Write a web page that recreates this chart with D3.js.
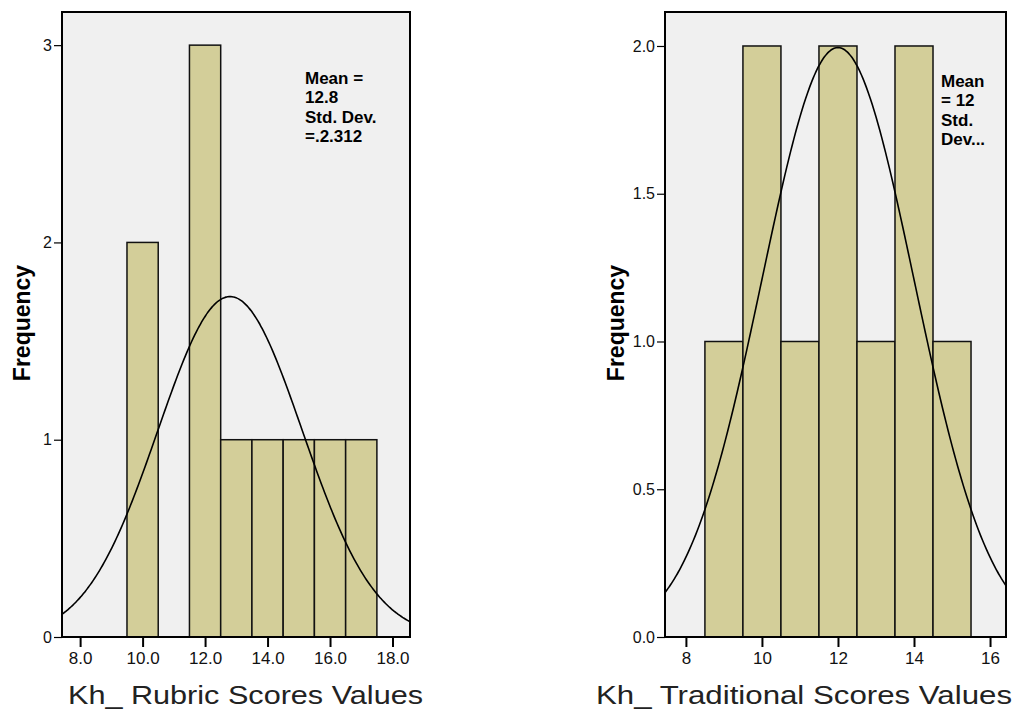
<!DOCTYPE html>
<html>
<head>
<meta charset="utf-8">
<script src="https://cdn.jsdelivr.net/npm/d3@7"></script>
<style>
  body { margin: 0; background: #fff; }
  text { font-family: "Liberation Sans", Arial, sans-serif; }
</style>
</head>
<body>
<div id="chart"></div>
<script>
(function () {
    // left histogram: Kh_ Rubric Scores Values
    var rubricBins = [10, 12, 13, 14, 15, 16, 17];
    var rubricCounts = [2, 3, 1, 1, 1, 1, 1];
    var rubricXTicks = [8, 10, 12, 14, 16, 18];
    var rubricYTicks = [0, 1, 2, 3];
    var rubricMean = 12.8, rubricSd = 2.312, rubricN = 10;
    var rubricLegend = ["Mean =", "12.8", "Std. Dev.", "=.2.312"];

    // right histogram: Kh_ Traditional Scores Values
    var tradBins = [9, 10, 11, 12, 13, 14, 15];
    var tradCounts = [1, 2, 1, 2, 1, 2, 1];
    var tradXTicks = [8, 10, 12, 14, 16];
    var tradYTicks = [0, 0.5, 1, 1.5, 2];
    var tradMean = 12, tradSd = 2, tradN = 10;
    var tradLegend = ["Mean", "= 12", "Std.", "Dev..."];

    var width = 1016, height = 711;

    var svg = d3.select("#chart").append("svg")
        .attr("width", width)
        .attr("height", height);

    var panels = [
        {
            id: "rubric", bins: rubricBins, counts: rubricCounts,
            xTicks: rubricXTicks, yTicks: rubricYTicks, xFmt: d3.format(".1f"), yFmt: d3.format("d"),
            mean: rubricMean, sd: rubricSd, n: rubricN, legend: rubricLegend,
            left: 62, right: 410, xDomain: [7.42, 18.56], yMax: 3.168,
            legendX: 305, legendY: 84,
            title: "Kh_ Rubric Scores Values", titleX: 68, titleLen: 355, yTitleX: 30
        },
        {
            id: "trad", bins: tradBins, counts: tradCounts,
            xTicks: tradXTicks, yTicks: tradYTicks, xFmt: d3.format("d"), yFmt: d3.format(".1f"),
            mean: tradMean, sd: tradSd, n: tradN, legend: tradLegend,
            left: 665, right: 1006, xDomain: [7.45, 16.42], yMax: 2.115,
            legendX: 941, legendY: 87,
            title: "Kh_ Traditional Scores Values", titleX: 596, titleLen: 416, yTitleX: 624
        }
    ];

    var top = 12, bottom = 637;

    panels.forEach(function (p) {
        var x = d3.scaleLinear().domain(p.xDomain).range([p.left, p.right]);
        var y = d3.scaleLinear().domain([0, p.yMax]).range([bottom, top]);
        var g = svg.append("g");

        g.append("clipPath").attr("id", "clip-" + p.id)
            .append("rect")
            .attr("x", p.left).attr("y", top)
            .attr("width", p.right - p.left).attr("height", bottom - top);

        g.append("rect")
            .attr("x", p.left).attr("y", top)
            .attr("width", p.right - p.left).attr("height", bottom - top)
            .attr("fill", "#f0f0f0");

        g.selectAll(".bar").data(p.bins).enter().append("rect")
            .attr("x", function (d) { return x(d - 0.5); })
            .attr("y", function (d, i) { return y(p.counts[i]); })
            .attr("width", function (d) { return x(d + 0.5) - x(d - 0.5); })
            .attr("height", function (d, i) { return y(0) - y(p.counts[i]); })
            .attr("fill", "#d3ce99")
            .attr("stroke", "#111")
            .attr("stroke-width", 1.5);

        // fitted normal curve
        var xs = d3.range(p.xDomain[0], p.xDomain[1] + 0.05, 0.05);
        var line = d3.line()
            .x(function (d) { return x(d); })
            .y(function (d) {
                var z = (d - p.mean) / p.sd;
                return y(p.n * Math.exp(-0.5 * z * z) / (p.sd * Math.sqrt(2 * Math.PI)));
            })
            .curve(d3.curveBasis);
        g.append("path")
            .attr("d", line(xs))
            .attr("clip-path", "url(#clip-" + p.id + ")")
            .attr("fill", "none")
            .attr("stroke", "#000")
            .attr("stroke-width", 1.6);

        // frame
        g.append("rect")
            .attr("x", p.left).attr("y", top)
            .attr("width", p.right - p.left).attr("height", bottom - top)
            .attr("fill", "none")
            .attr("stroke", "#000")
            .attr("stroke-width", 2);

        var yAxis = d3.axisLeft(y).tickValues(p.yTicks).tickFormat(p.yFmt)
            .tickSize(8).tickPadding(2);
        var ya = g.append("g").attr("transform", "translate(" + p.left + ",0)").call(yAxis);
        ya.select(".domain").remove();
        ya.selectAll("line").attr("stroke", "#000").attr("stroke-width", 1.2);
        ya.selectAll("text").attr("font-size", 16).attr("fill", "#111")
            .attr("font-family", "Liberation Sans, Arial, sans-serif");

        var xAxis = d3.axisBottom(x).tickValues(p.xTicks).tickFormat(p.xFmt)
            .tickSize(10).tickPadding(5);
        var xa = g.append("g").attr("transform", "translate(0," + bottom + ")").call(xAxis);
        xa.select(".domain").remove();
        xa.selectAll("line").attr("stroke", "#000").attr("stroke-width", 2);
        xa.selectAll("text").attr("font-size", 17).attr("fill", "#111")
            .attr("font-family", "Liberation Sans, Arial, sans-serif");

        // legend text
        g.selectAll(".leg").data(p.legend).enter().append("text")
            .attr("x", p.legendX)
            .attr("y", function (d, i) { return p.legendY + i * 19.3; })
            .attr("font-size", 17)
            .attr("font-weight", "bold")
            .attr("fill", "#000")
            .text(function (d) { return d; });

        g.append("text")
            .attr("transform", "translate(" + p.yTitleX + "," + 323 + ") rotate(-90)")
            .attr("text-anchor", "middle")
            .attr("font-size", 23)
            .attr("font-weight", "bold")
            .attr("fill", "#000")
            .text("Frequency");

        g.append("text")
            .attr("x", p.titleX)
            .attr("y", 704)
            .attr("font-family", "DejaVu Sans, Verdana, sans-serif")
            .attr("font-size", 25)
            .attr("fill", "#222")
            .attr("textLength", p.titleLen)
            .attr("lengthAdjust", "spacingAndGlyphs")
            .text(p.title);
    });
})();
</script>
</body>
</html>
